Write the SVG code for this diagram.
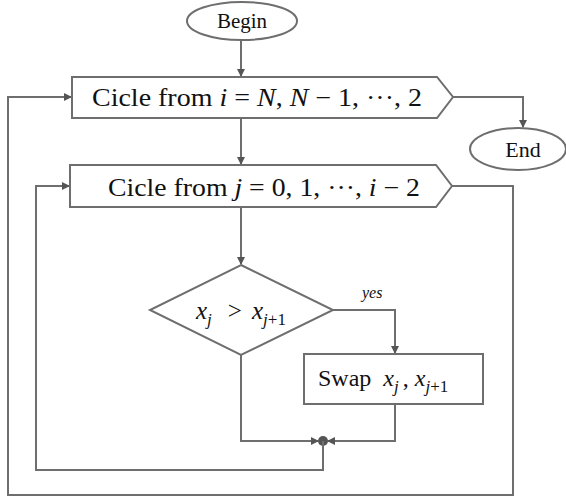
<svg xmlns="http://www.w3.org/2000/svg" width="566" height="501" viewBox="0 0 566 501">
<style>
.shape{fill:#fff;stroke:#6e6e6e;stroke-width:2}
.conn{fill:none;stroke:#6e6e6e;stroke-width:2}
.t{font-family:"Liberation Serif","Times New Roman",serif;fill:#111}
.i{font-style:italic}
</style>
<defs>
<marker id="ah" markerWidth="8" markerHeight="8" refX="7" refY="4" orient="auto" markerUnits="userSpaceOnUse">
<path d="M0,0 L8,4 L0,8 Z" fill="#555"/>
</marker>
</defs>
<rect width="566" height="501" fill="#fff"/>
<g id="connectors">
<path class="conn" d="M241,40 V76" marker-end="url(#ah)"/>
<path class="conn" d="M241,118 V164" marker-end="url(#ah)"/>
<path class="conn" d="M241,207 V264" marker-end="url(#ah)"/>
<path class="conn" d="M333,310 H395 V353" marker-end="url(#ah)"/>
<path class="conn" d="M241,355 V441 H318" marker-end="url(#ah)"/>
<path class="conn" d="M395,404 V441 H328" marker-end="url(#ah)"/>
<circle cx="323" cy="441" r="5" fill="#555"/>
<path class="conn" d="M323,441 V470 H36 V186 H69" marker-end="url(#ah)"/>
<path class="conn" d="M452,186 H513 V495 H8 V97 H71" marker-end="url(#ah)"/>
<path class="conn" d="M453,97 H523 V127" marker-end="url(#ah)"/>
<text class="t i" x="362" y="298" font-size="16">yes</text>
</g>
<g id="begin">
<ellipse class="shape" cx="242" cy="21" rx="55" ry="19"/>
<text class="t" x="242" y="28" font-size="21" text-anchor="middle">Begin</text>
</g>
<g id="loop-i">
<path class="shape" d="M72,77 H437 L453,97 L437,118 H72 Z"/>
<text class="t" x="92" y="106" font-size="25" textLength="330" lengthAdjust="spacingAndGlyphs">Cicle from <tspan class="i">i</tspan> = <tspan class="i">N</tspan>, <tspan class="i">N</tspan> − 1, ···, 2</text>
</g>
<g id="end">
<ellipse class="shape" cx="518" cy="149" rx="48" ry="21"/>
<text class="t" x="523" y="157" font-size="22" text-anchor="middle">End</text>
</g>
<g id="loop-j">
<path class="shape" d="M70,165 H436 L452,186 L436,207 H70 Z"/>
<text class="t" x="108" y="196" font-size="25" textLength="312" lengthAdjust="spacingAndGlyphs">Cicle from  <tspan class="i">j</tspan> = 0, 1, ···, <tspan class="i">i</tspan> − 2</text>
</g>
<g id="compare">
<path class="shape" d="M241,265 L333,310 L241,355 L150,310 Z"/>
<text class="t" x="196" y="319" font-size="25"><tspan class="i">x</tspan><tspan class="i" font-size="17" dy="6">j</tspan><tspan dy="-6" dx="16">&gt;</tspan><tspan class="i" dx="10">x</tspan><tspan class="i" font-size="17" dy="6">j</tspan><tspan font-size="17">+1</tspan></text>
</g>
<g id="swap">
<rect class="shape" x="304" y="354" width="179" height="50"/>
<text class="t" x="318" y="386" font-size="24">Swap <tspan class="i" dx="6">x</tspan><tspan class="i" font-size="17" dy="6">j</tspan><tspan dy="-6" dx="4">, </tspan><tspan class="i">x</tspan><tspan class="i" font-size="17" dy="6">j</tspan><tspan font-size="17">+1</tspan></text>
</g>
</svg>
